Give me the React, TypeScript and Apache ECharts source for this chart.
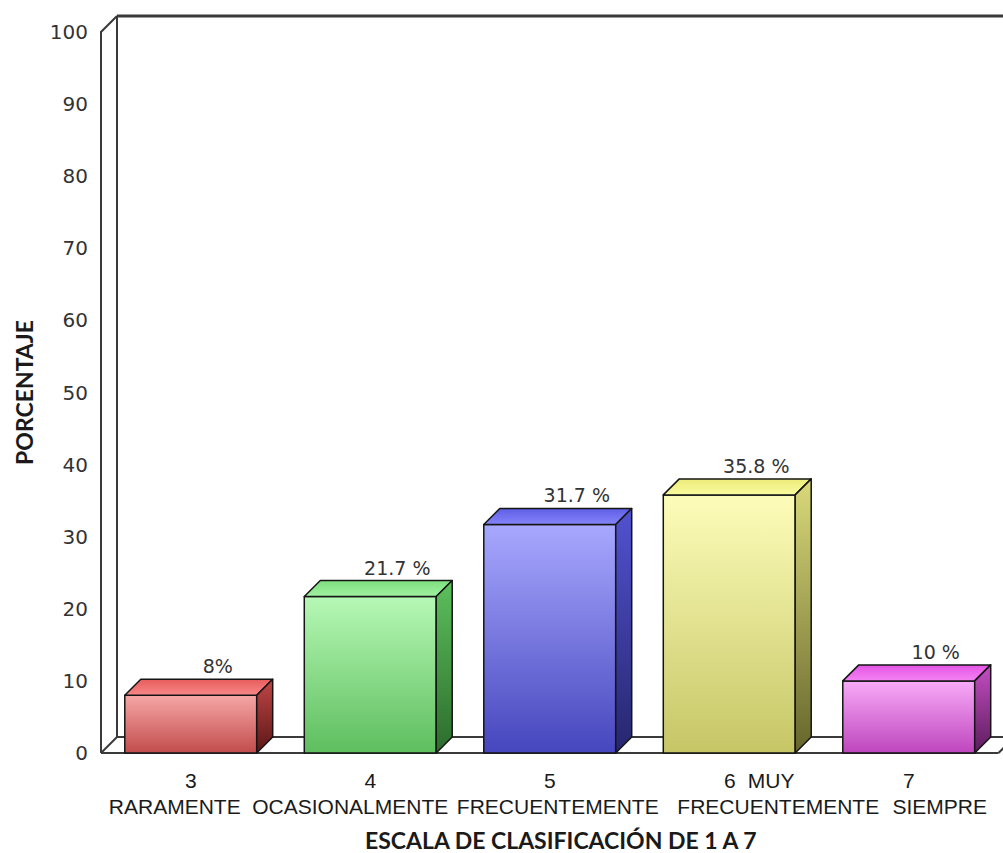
import React, { useEffect, useRef } from "react";
import * as echarts from "echarts";

// ---- data ----
const categories = ["3", "4", "5", "6", "7"];
const labelLine1 = ["3", "4", "5", "6", "7"];
const labelLine1Extra = ["", "", "", "MUY", ""];
const labelLine2 = ["RARAMENTE", "OCASIONALMENTE", "FRECUENTEMENTE", "FRECUENTEMENTE", "SIEMPRE"];
const values = [8, 21.7, 31.7, 35.8, 10];
const valueLabels = ["8%", "21.7 %", "31.7 %", "35.8 %", "10 %"];
const yAxisTitle = "PORCENTAJE";
const xAxisTitle = "ESCALA DE CLASIFICACIÓN DE 1 A 7";

// ---- styles ----
const line2Shift = [-16, -20, 8, 49, 31];
const faceColors = [
  { front: ["#f6a6a6", "#c24c4c"], top: ["#e85c5c", "#f88888"], side: ["#c04646", "#5c1616"] },
  { front: ["#b6f8b6", "#5ebe5e"], top: ["#7ede7e", "#a0f2a0"], side: ["#5cc05c", "#2c6c2c"] },
  { front: ["#a8a8ff", "#4646be"], top: ["#5e5ee6", "#8484fa"], side: ["#5252d2", "#26266e"] },
  { front: ["#fdfdba", "#c6c666"], top: ["#ecec78", "#fafaa0"], side: ["#dada7a", "#66662c"] },
  { front: ["#f8aaf8", "#be46be"], top: ["#e454e4", "#f482f4"], side: ["#c44ec4", "#5c1c5c"] },
];
const DEPTH = 16;
const OUTLINE = "#151515";
const FRAME = "#3a3a3a";

function grad(c: string[]) {
  return new echarts.graphic.LinearGradient(0, 0, 0, 1, [
    { offset: 0, color: c[0] },
    { offset: 1, color: c[1] },
  ]);
}

export default function App() {
  const ref = useRef<HTMLDivElement>(null);
  useEffect(() => {
    if (!ref.current) return;
    const chart = echarts.init(ref.current, null, { renderer: "svg" });

    const rich: any = {
      n: { fontFamily: "Liberation Sans", fontSize: 21, color: "#1a1a1a", lineHeight: 26 },
      six: { fontFamily: "Liberation Sans", fontSize: 21, color: "#1a1a1a", lineHeight: 26, padding: [0, 12, 0, 60] },
    };
    line2Shift.forEach((d, i) => {
      rich["l" + i] = {
        fontFamily: "Liberation Sans",
        fontSize: 21,
        color: "#1a1a1a",
        lineHeight: 26,
        padding: d < 0 ? [0, -2 * d, 0, 0] : [0, 0, 0, 2 * d],
      };
    });

    const option: any = {
      animation: false,
      backgroundColor: "#ffffff",
      grid: { left: 101, right: 4.5, top: 32, bottom: 100, containLabel: false, outerBoundsMode: "none" },
      xAxis: {
        type: "category",
        data: categories,
        axisLine: { show: false },
        axisTick: { show: false },
        splitLine: { show: false },
        axisLabel: {
          interval: 0,
          margin: 14,
          rich,
          formatter: (_v: string, i: number) => {
            const first = labelLine1Extra[i]
              ? `{six|${labelLine1[i]}}{n|${labelLine1Extra[i]}}`
              : `{n|${labelLine1[i]}}`;
            return `${first}\n{l${i}|${labelLine2[i]}}`;
          },
        },
        name: xAxisTitle,
        nameLocation: "middle",
        nameGap: 74,
        nameTextStyle: {
          fontFamily: "Lato",
          fontWeight: "bold",
          fontSize: 23,
          lineHeight: 25,
          color: "#1a1a1a",
          padding: [0, 0, 0, 22],
        },
      },
      yAxis: {
        type: "value",
        min: 0,
        max: 100,
        interval: 10,
        axisLine: { show: false },
        axisTick: { show: false },
        splitLine: { show: false },
        axisLabel: {
          margin: 13,
          fontFamily: "DejaVu Sans",
          fontSize: 20,
          color: "#333333",
        },
        name: yAxisTitle,
        nameLocation: "middle",
        nameGap: 66,
        nameRotate: 90,
        nameTextStyle: {
          fontFamily: "Lato",
          fontWeight: "bold",
          fontSize: 23,
          color: "#1a1a1a",
        },
      },
      series: [
        {
          type: "custom",
          z: 1,
          clip: false,
          silent: true,
          data: [[0, 0]],
          encode: { x: 0, y: 1 },
          renderItem: (params: any) => {
            const cs = params.coordSys;
            const x0 = cs.x, y0 = cs.y, w = cs.width, h = cs.height;
            const d = DEPTH;
            const ls = { stroke: FRAME, lineWidth: 2, fill: null };
            return {
              type: "group",
              children: [
                { type: "polygon", shape: { points: [[x0 + d, y0 - d], [x0 + w + d, y0 - d], [x0 + w + d, y0 + h - d], [x0 + d, y0 + h - d]] }, style: { fill: "#ffffff" } },
                { type: "polyline", shape: { points: [[x0, y0 + h], [x0, y0], [x0 + d, y0 - d]] }, style: ls },
                { type: "line", shape: { x1: x0 + d, y1: y0 - d, x2: x0 + w + d + 20, y2: y0 - d }, style: { stroke: FRAME, lineWidth: 3 } },
                { type: "line", shape: { x1: x0 + d, y1: y0 - d, x2: x0 + d, y2: y0 + h - d }, style: ls },
                { type: "line", shape: { x1: x0, y1: y0 + h, x2: x0 + d, y2: y0 + h - d }, style: ls },
                { type: "line", shape: { x1: x0 + d, y1: y0 + h - d, x2: x0 + w + d + 20, y2: y0 + h - d }, style: ls },
                { type: "line", shape: { x1: x0, y1: y0 + h, x2: x0 + w, y2: y0 + h }, style: ls },
                { type: "line", shape: { x1: x0 + w, y1: y0 + h, x2: x0 + w + d, y2: y0 + h - d }, style: ls },
              ],
            };
          },
        },
        {
          type: "custom",
          z: 2,
          clip: false,
          data: values.map((v, i) => [i, v]),
          encode: { x: 0, y: 1 },
          renderItem: (params: any, api: any) => {
            const idx = api.value(0);
            const v = api.value(1);
            const top = api.coord([idx, v]);
            const base = api.coord([idx, 0]);
            const band = api.size([1, 0])[0];
            const bw = band * 0.735;
            const xL = top[0] - bw / 2;
            const xR = top[0] + bw / 2;
            const yT = top[1];
            const yB = base[1];
            const d = DEPTH;
            const c = faceColors[idx];
            const st = { stroke: OUTLINE, lineWidth: 1.5, lineJoin: "round" };
            return {
              type: "group",
              children: [
                { type: "polygon", shape: { points: [[xL, yT], [xR, yT], [xR, yB], [xL, yB]] }, style: { ...st, fill: grad(c.front) } },
                { type: "polygon", shape: { points: [[xL, yT], [xL + d, yT - d], [xR + d, yT - d], [xR, yT]] }, style: { ...st, fill: grad(c.top) } },
                { type: "polygon", shape: { points: [[xR, yT], [xR + d, yT - d], [xR + d, yB - d], [xR, yB]] }, style: { ...st, fill: grad(c.side) } },
                {
                  type: "text",
                  x: top[0] + 27,
                  y: yT - 29,
                  style: {
                    text: valueLabels[idx],
                    fontFamily: "DejaVu Sans",
                    fontSize: 19,
                    fill: "#333333",
                    align: "center",
                    verticalAlign: "middle",
                  },
                },
              ],
            };
          },
        },
      ],
    };
    chart.setOption(option);
    return () => chart.dispose();
  }, []);
  return <div ref={ref} style={{ width: 1003, height: 853, position: "absolute", left: 0, top: 0 }} />;
}
